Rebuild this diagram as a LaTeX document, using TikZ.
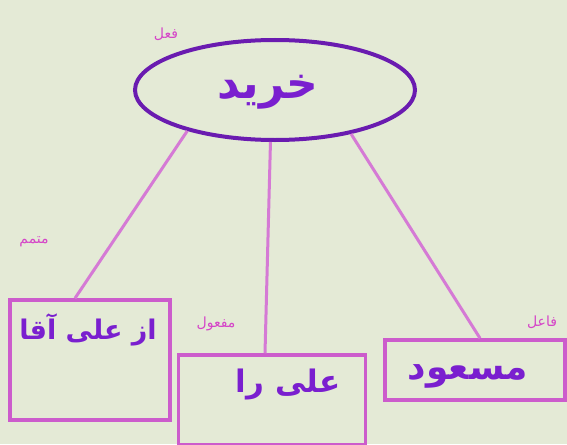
\documentclass[tikz,border=0pt]{standalone}
\usepackage{fontspec}
\usetikzlibrary{shapes.geometric}
\newfontfamily\arabicfont[Script=Arabic]{DejaVu Sans}
\TeXXeTstate=1
\definecolor{paper}{HTML}{E4EAD6}
\definecolor{ink}{HTML}{7A1FCF}
\definecolor{ringink}{HTML}{6A1BB0}
\definecolor{boxink}{HTML}{CC5CCC}
\definecolor{lineink}{HTML}{D57AD5}
\definecolor{roleink}{HTML}{D545C8}
\tikzset{
  word/.style={text=ink, font=\arabicfont\bfseries, inner sep=0pt},
  role/.style={text=roleink, font=\arabicfont\fontsize{14}{14}\selectfont, inner sep=0pt},
  box/.style={draw=boxink, line width=3.5pt, inner sep=0pt},
  link/.style={draw=lineink, line width=3pt}
}
\begin{document}
\begin{tikzpicture}[x=1pt, y=-1pt]

    % Paper.
    \fill[paper] (0,0) rectangle (567,444);
    \useasboundingbox (0,0) rectangle (567,444);

    % The verb in its ellipse.
    \node[draw=ringink, line width=4pt, ellipse, minimum width=280, minimum height=100,
          inner sep=0pt] (verb) at (275,90) {};
    \node[word, font=\arabicfont\bfseries\fontsize{44}{44}\selectfont] (verbword) at (268,92) {\beginR خرید\endR};

    % The three boxes.
    \node[box, minimum width=160, minimum height=120] (comp) at (90,360) {};
    \node[box, minimum width=187, minimum height=90]  (obj)  at (272,400) {};
    \node[box, minimum width=180, minimum height=60]  (subj) at (475,370) {};

    % Words in the boxes.
    \node[word, font=\arabicfont\bfseries\fontsize{27}{27}\selectfont] (compword) at (88,330) {\beginR از علی آقا\endR};
    \node[word, font=\arabicfont\bfseries\fontsize{31}{31}\selectfont] (objword)  at (288,385) {\beginR علی را\endR};
    \node[word, font=\arabicfont\bfseries\fontsize{36}{36}\selectfont] (subjword) at (468,376) {\beginR مسعود\endR};

    % Role labels.
    \node[role] (verbrole) at (166,34)  {\beginR فعل\endR};
    \node[role] (comprole) at (34,242)  {\beginR متمم\endR};
    \node[role] (objrole)  at (216,324) {\beginR مفعول\endR};
    \node[role] (subjrole) at (542,322) {\beginR فاعل\endR};

    % Links from the verb.
    \draw[link] (verb.205) -- ([xshift=-15]comp.north);
    \draw[link] (verb.265) -- ([xshift=-7]obj.north);
    \draw[link] (verb.330) -- ([xshift=5]subj.north);
\end{tikzpicture}
\end{document}
